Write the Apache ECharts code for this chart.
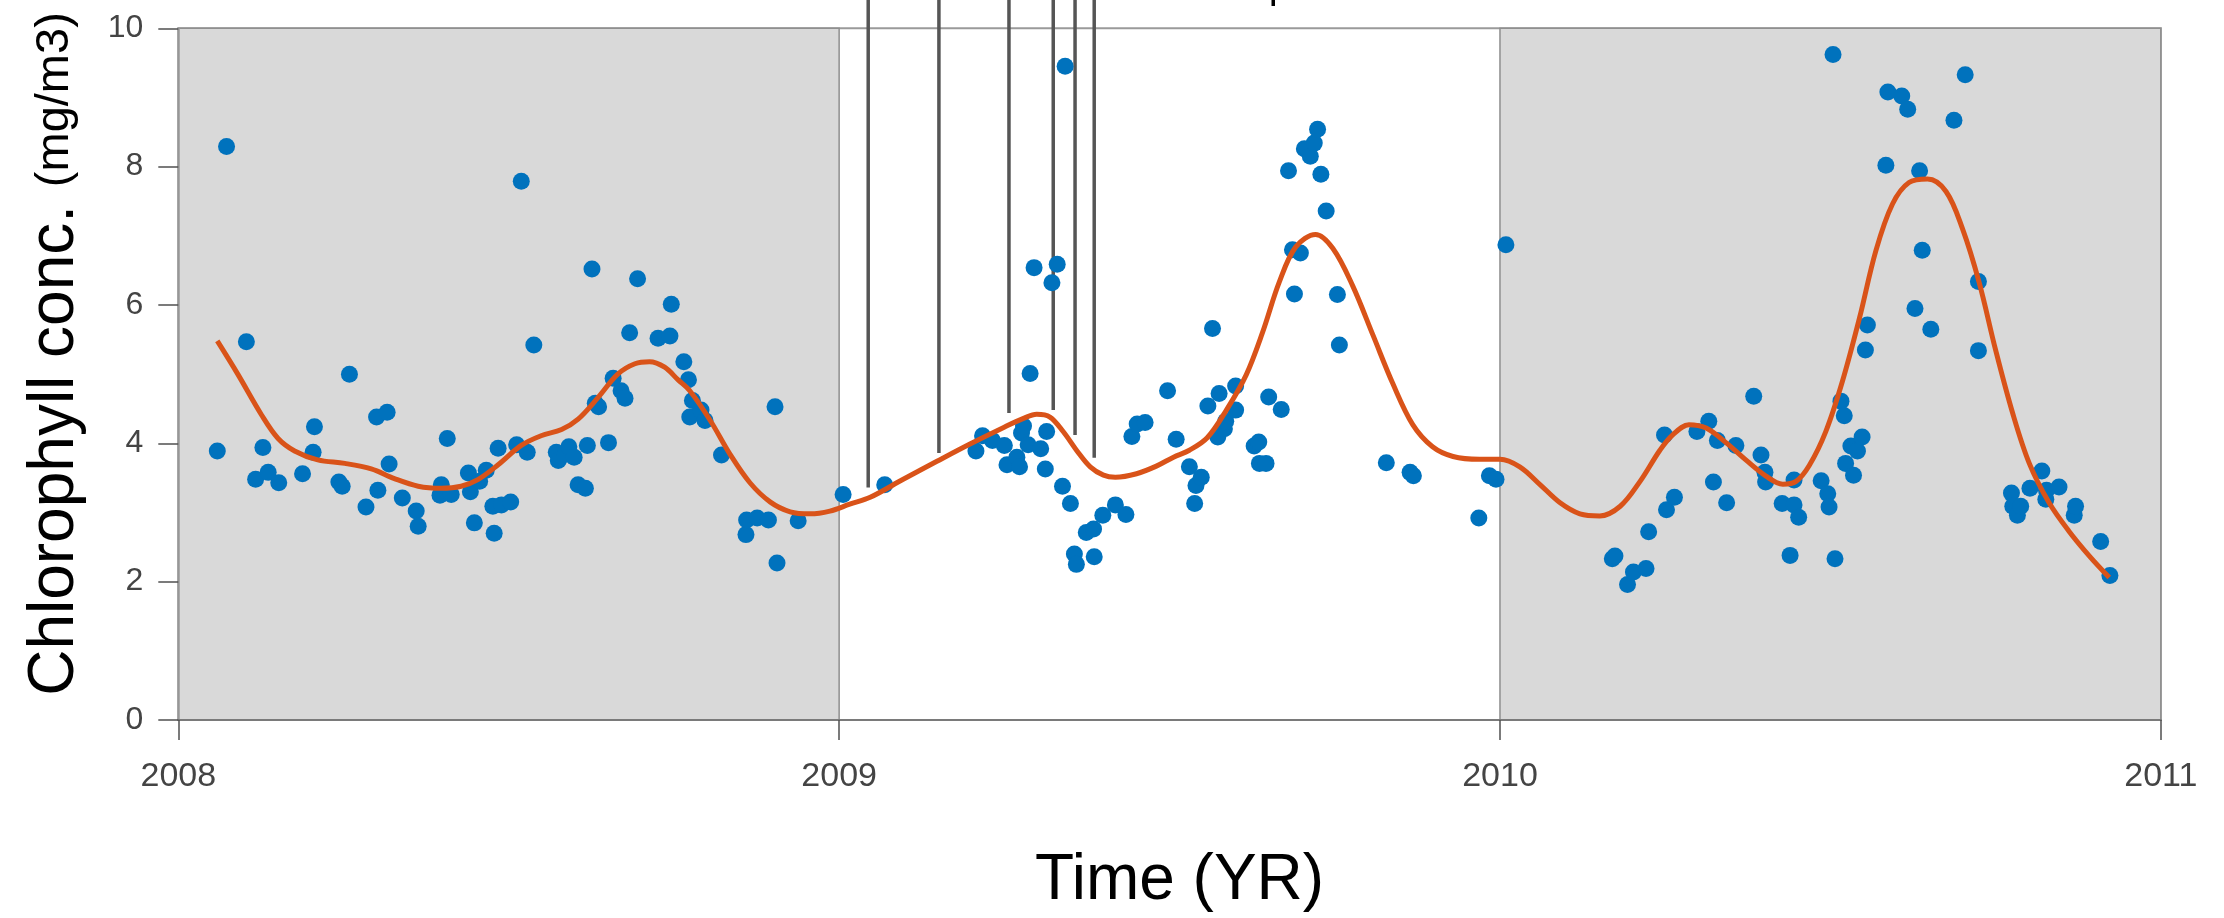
<!DOCTYPE html>
<html>
<head>
<meta charset="utf-8">
<title>Chlorophyll concentration 2008–2010</title>
<script src="https://cdn.jsdelivr.net/npm/echarts@6/dist/echarts.min.js"></script>
<style>
  html, body { margin: 0; padding: 0; background: #ffffff; }
  #chart { width: 2224px; height: 918px; }
</style>
</head>
<body>
<div id="chart"></div>
<script>
// Axis ticks
const yearTicks = [2008, 2009, 2010, 2011];
const chlTicks = [0, 2, 4, 6, 8, 10];

// Years drawn with a grey background
const shadedYears = [[2008, 2009], [2010, 2011]];

// Observations: [decimal year, chlorophyll mg/m3]
const obs2008 = [
  [2008.059, 3.89], [2008.073, 8.29], [2008.103, 5.47], [2008.117, 3.48], [2008.128, 3.94],
  [2008.136, 3.58], [2008.152, 3.43], [2008.188, 3.56], [2008.204, 3.87], [2008.206, 4.24],
  [2008.243, 3.44], [2008.248, 3.38], [2008.259, 5.00], [2008.284, 3.08], [2008.300, 4.38],
  [2008.302, 3.32], [2008.316, 4.45], [2008.319, 3.70], [2008.339, 3.21], [2008.360, 3.02],
  [2008.363, 2.80], [2008.396, 3.25], [2008.398, 3.40], [2008.407, 4.07], [2008.413, 3.26],
  [2008.439, 3.57], [2008.442, 3.30], [2008.448, 2.85], [2008.456, 3.45], [2008.466, 3.61],
  [2008.476, 3.09], [2008.478, 2.70], [2008.484, 3.93], [2008.489, 3.11], [2008.503, 3.15],
  [2008.512, 3.98], [2008.519, 7.79], [2008.528, 3.87], [2008.538, 5.42], [2008.572, 3.87],
  [2008.575, 3.75], [2008.585, 3.84], [2008.591, 3.95], [2008.599, 3.80], [2008.605, 3.40],
  [2008.616, 3.35], [2008.619, 3.97], [2008.626, 6.52], [2008.631, 4.58], [2008.636, 4.53],
  [2008.651, 4.01], [2008.658, 4.94], [2008.670, 4.76], [2008.676, 4.65], [2008.683, 5.60],
  [2008.695, 6.38], [2008.726, 5.52], [2008.744, 5.55], [2008.746, 6.01], [2008.765, 5.18],
  [2008.772, 4.92], [2008.774, 4.38], [2008.778, 4.62], [2008.791, 4.48], [2008.797, 4.33],
  [2008.822, 3.83], [2008.859, 2.68], [2008.860, 2.89], [2008.876, 2.92], [2008.893, 2.89],
  [2008.903, 4.53], [2008.906, 2.27], [2008.938, 2.88]
];
const obs2009 = [
  [2009.006, 3.26], [2009.069, 3.40], [2009.207, 3.89], [2009.217, 4.11], [2009.232, 4.04],
  [2009.250, 3.97], [2009.254, 3.69], [2009.269, 3.80], [2009.273, 3.66], [2009.276, 4.15],
  [2009.279, 4.25], [2009.286, 3.98], [2009.289, 5.01], [2009.295, 6.54], [2009.305, 3.92],
  [2009.312, 3.63], [2009.314, 4.17], [2009.322, 6.32], [2009.330, 6.59], [2009.338, 3.38],
  [2009.342, 9.45], [2009.350, 3.13], [2009.356, 2.40], [2009.359, 2.25], [2009.374, 2.71],
  [2009.385, 2.76], [2009.386, 2.36], [2009.399, 2.96], [2009.418, 3.11], [2009.434, 2.97],
  [2009.443, 4.10], [2009.451, 4.28], [2009.463, 4.30], [2009.497, 4.76], [2009.510, 4.06],
  [2009.530, 3.66], [2009.538, 3.13], [2009.540, 3.39], [2009.548, 3.51], [2009.558, 4.54],
  [2009.565, 5.66], [2009.573, 4.09], [2009.575, 4.72], [2009.583, 4.21], [2009.585, 4.32],
  [2009.600, 4.83], [2009.600, 4.48], [2009.628, 3.96], [2009.635, 4.02], [2009.636, 3.71],
  [2009.646, 3.71], [2009.650, 4.67], [2009.669, 4.49], [2009.680, 7.94], [2009.686, 6.80],
  [2009.689, 6.16], [2009.698, 6.75], [2009.704, 8.26], [2009.713, 8.15], [2009.719, 8.34],
  [2009.724, 8.54], [2009.729, 7.89], [2009.737, 7.36], [2009.754, 6.15], [2009.757, 5.42],
  [2009.828, 3.72], [2009.864, 3.58], [2009.869, 3.53], [2009.968, 2.92], [2009.984, 3.53],
  [2009.994, 3.48]
];
const obs2010 = [
  [2010.009, 6.87], [2010.170, 2.33], [2010.174, 2.37], [2010.193, 1.96], [2010.202, 2.14],
  [2010.221, 2.19], [2010.225, 2.72], [2010.249, 4.12], [2010.252, 3.04], [2010.264, 3.22],
  [2010.298, 4.17], [2010.316, 4.32], [2010.323, 3.44], [2010.329, 4.04], [2010.343, 3.14],
  [2010.357, 3.97], [2010.384, 4.68], [2010.395, 3.83], [2010.401, 3.58], [2010.402, 3.44],
  [2010.427, 3.13], [2010.439, 2.38], [2010.445, 3.11], [2010.445, 3.47], [2010.452, 2.93],
  [2010.486, 3.46], [2010.496, 3.27], [2010.498, 3.08], [2010.504, 9.62], [2010.507, 2.33],
  [2010.516, 4.61], [2010.521, 4.40], [2010.523, 3.71], [2010.531, 3.96], [2010.535, 3.54],
  [2010.541, 3.89], [2010.548, 4.09], [2010.553, 5.35], [2010.556, 5.71], [2010.584, 8.02],
  [2010.587, 9.08], [2010.608, 9.02], [2010.617, 8.83], [2010.628, 5.95], [2010.635, 7.94],
  [2010.639, 6.79], [2010.652, 5.65], [2010.687, 8.67], [2010.704, 9.33], [2010.724, 5.34],
  [2010.724, 6.34], [2010.774, 3.28], [2010.776, 3.09], [2010.783, 2.96], [2010.788, 3.09],
  [2010.802, 3.35], [2010.820, 3.60], [2010.826, 3.19], [2010.827, 3.32], [2010.846, 3.37],
  [2010.869, 2.96], [2010.871, 3.09], [2010.909, 2.58], [2010.923, 2.09]
];

// Smoothed seasonal trend
const trendTime = [
  2008.059, 2008.090, 2008.126, 2008.151, 2008.176, 2008.211, 2008.252, 2008.292, 2008.327, 2008.363,
  2008.398, 2008.428, 2008.454, 2008.484, 2008.519, 2008.549, 2008.580, 2008.605, 2008.635, 2008.665,
  2008.691, 2008.713, 2008.736, 2008.756, 2008.774, 2008.805, 2008.835, 2008.865, 2008.896, 2008.926,
  2008.956, 2008.986, 2009.016, 2009.047, 2009.097, 2009.148, 2009.198, 2009.249, 2009.279, 2009.299,
  2009.319, 2009.339, 2009.360, 2009.380, 2009.400, 2009.418, 2009.450, 2009.480, 2009.506, 2009.530,
  2009.557, 2009.586, 2009.616, 2009.641, 2009.666, 2009.691, 2009.721, 2009.747, 2009.777, 2009.808,
  2009.838, 2009.868, 2009.898, 2009.929, 2009.969, 2010.000, 2010.030, 2010.061, 2010.091, 2010.121,
  2010.151, 2010.182, 2010.212, 2010.242, 2010.261, 2010.286, 2010.312, 2010.342, 2010.372, 2010.402,
  2010.428, 2010.448, 2010.468, 2010.493, 2010.518, 2010.544, 2010.569, 2010.594, 2010.619, 2010.647,
  2010.675, 2010.700, 2010.725, 2010.750, 2010.776, 2010.801, 2010.831, 2010.861, 2010.892, 2010.922
];
const trendChl = [
  5.48, 5.00, 4.41, 4.07, 3.89, 3.76, 3.71, 3.63, 3.49, 3.38,
  3.35, 3.38, 3.48, 3.69, 3.97, 4.11, 4.20, 4.35, 4.66, 5.00,
  5.15, 5.18, 5.10, 4.92, 4.76, 4.33, 3.84, 3.43, 3.15, 3.01,
  2.98, 3.02, 3.12, 3.22, 3.48, 3.74, 3.99, 4.23, 4.36, 4.42,
  4.38, 4.17, 3.89, 3.66, 3.54, 3.51, 3.56, 3.67, 3.80, 3.90,
  4.08, 4.48, 4.99, 5.61, 6.33, 6.84, 7.02, 6.82, 6.28, 5.56,
  4.86, 4.27, 3.95, 3.81, 3.77, 3.77, 3.66, 3.40, 3.14, 2.98,
  2.95, 3.09, 3.45, 3.90, 4.12, 4.27, 4.22, 4.01, 3.76, 3.53,
  3.41, 3.45, 3.68, 4.17, 4.89, 5.81, 6.79, 7.46, 7.77, 7.82,
  7.64, 7.10, 6.33, 5.35, 4.43, 3.71, 3.14, 2.73, 2.37, 2.06
];

// Event markers in 2009: [decimal year, lower end of marker (mg/m3)]
const eventMarks = [
  [2009.044, 3.36], [2009.151, 3.86], [2009.257, 4.44],
  [2009.324, 4.48], [2009.357, 4.12], [2009.386, 3.79]
];

const FONT = '"Liberation Sans", Arial, Helvetica, sans-serif';
const BLUE = '#0072BD';
const ORANGE = '#D95319';

const chart = echarts.init(document.getElementById('chart'), null, { renderer: 'canvas' });

const dotStyle = { color: BLUE, opacity: 1 };

chart.setOption({
  animation: false,
  backgroundColor: '#ffffff',
  grid: {
    left: 178.3, right: 63.2, top: 28.3, bottom: 194.7,
    show: true, backgroundColor: '#ffffff', borderColor: '#9a9a9a', borderWidth: 2
  },
  xAxis: {
    type: 'value',
    min: yearTicks[0], max: yearTicks[yearTicks.length - 1], interval: 1,
    z: 5,
    axisLine: { show: true, onZero: false, lineStyle: { color: '#7a7a7a', width: 2 } },
    axisTick: { show: true, inside: false, length: 20, lineStyle: { color: '#505050', width: 1.5 } },
    axisLabel: {
      margin: 40, fontFamily: FONT, fontSize: 34, color: '#444444',
      formatter: v => yearTicks.includes(v) ? String(v) : ''
    },
    splitLine: { show: false },
    name: 'Time (YR)',
    nameLocation: 'middle',
    nameGap: 129,
    nameTextStyle: { fontFamily: FONT, fontSize: 64, color: '#000000', padding: [0, 0, 0, 20] }
  },
  yAxis: {
    type: 'value',
    min: chlTicks[0], max: chlTicks[chlTicks.length - 1], interval: 2,
    z: 5,
    axisLine: { show: true, onZero: false, lineStyle: { color: '#9a9a9a', width: 1.5 } },
    axisTick: { show: true, inside: false, length: 20, lineStyle: { color: '#505050', width: 1.5 } },
    axisLabel: {
      margin: 35, fontFamily: FONT, fontSize: 32, color: '#444444',
      formatter: v => chlTicks.includes(v) ? String(v) : ''
    },
    splitLine: { show: false }
  },
  graphic: [
    {
      type: 'text',
      x: 55, y: 354,
      rotation: Math.PI / 2,
      silent: true,
      style: {
        text: '{big|Chlorophyll conc. }{small|(mg/m3)}',
        align: 'center',
        verticalAlign: 'middle',
        fill: '#000000',
        rich: {
          big: { fontFamily: FONT, fontSize: 64, fill: '#000000' },
          small: { fontFamily: FONT, fontSize: 47, fill: '#000000' }
        }
      }
    },
    {
      type: 'rect',
      silent: true,
      shape: { x: 1271.5, y: 0, width: 3.5, height: 6 },
      style: { fill: '#000000' }
    }
  ],
  series: [
    {
      // background shading of alternate years
      type: 'line',
      data: [],
      silent: true,
      z: 1,
      markArea: {
        silent: true,
        itemStyle: { color: '#d9d9d9', borderColor: '#8f8f8f', borderWidth: 1.5 },
        data: shadedYears.map(([a, b]) => [{ xAxis: a }, { xAxis: b }])
      }
    },
    {
      // event markers reaching above the plot
      type: 'custom',
      clip: false,
      silent: true,
      z: 2,
      data: eventMarks,
      renderItem: (params, api) => {
        const p = api.coord([api.value(0), api.value(1)]);
        return {
          type: 'line',
          shape: { x1: p[0], y1: 0, x2: p[0], y2: p[1] },
          style: { stroke: '#555555', lineWidth: 3.5 }
        };
      }
    },
    {
      name: '2008', type: 'scatter', data: obs2008, symbol: 'circle', symbolSize: 17,
      itemStyle: dotStyle, z: 3
    },
    {
      name: '2009', type: 'scatter', data: obs2009, symbol: 'circle', symbolSize: 17,
      itemStyle: dotStyle, z: 3
    },
    {
      name: '2010', type: 'scatter', data: obs2010, symbol: 'circle', symbolSize: 17,
      itemStyle: dotStyle, z: 3
    },
    {
      name: 'trend', type: 'line',
      data: trendTime.map((t, i) => [t, trendChl[i]]),
      showSymbol: false, symbol: 'none', smooth: 0.35,
      lineStyle: { color: ORANGE, width: 5 },
      z: 4
    }
  ]
});
</script>
</body>
</html>
